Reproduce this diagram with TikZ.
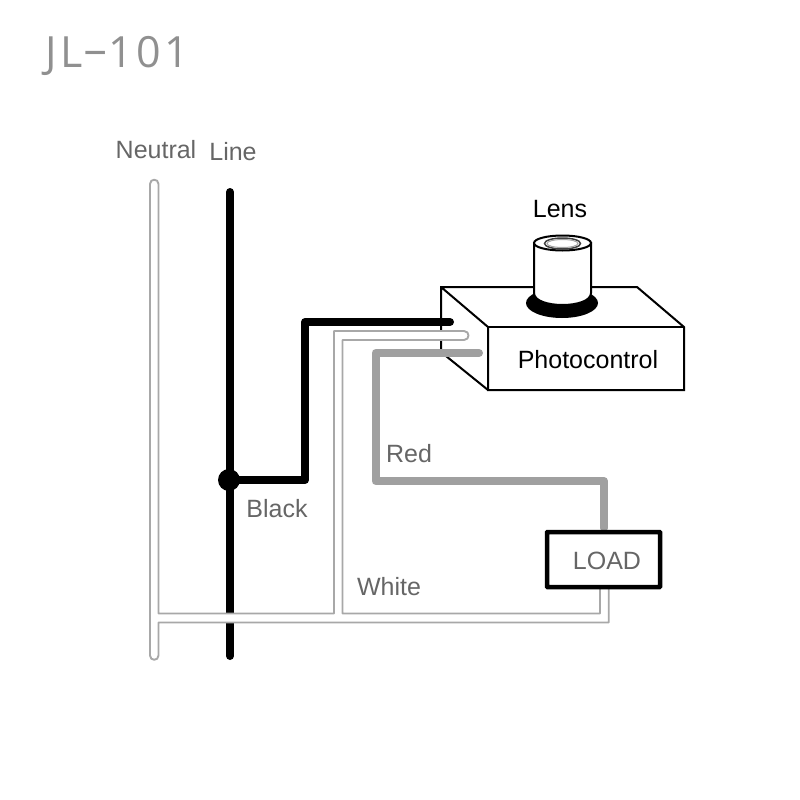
\documentclass[tikz,border=0pt]{standalone}
\usepackage{fontspec}
\usepackage{graphicx}
\setmainfont{Liberation Sans}
\newfontfamily\titlefont[LetterSpace=8]{Open Sans}
\definecolor{lbl}{HTML}{666666}
\definecolor{wirew}{HTML}{A8A8A8}
\definecolor{wirer}{HTML}{A0A0A0}
\definecolor{ttl}{HTML}{909090}
\tikzset{
  x=1pt,y=-1pt,
  lab/.style={font=\fontsize{25}{25}\selectfont,anchor=base,inner sep=0pt,text=lbl},
  labk/.style={lab,text=black},
  outl/.style={draw=black,line width=2pt,line join=miter},
  whitewire/.style={draw=wirew,line width=1.9pt,fill=white,line join=round},
  blackwire/.style={draw=black,line width=8pt,line cap=round,line join=round},
  redwire/.style={draw=wirer,line width=8pt,line cap=round,line join=round},
  loadbox/.style={draw=black,line width=4.5pt,fill=white,minimum width=113pt,minimum height=55pt,inner sep=0pt,rounded corners=0.5pt},
}
\begin{document}
\begin{tikzpicture}
\useasboundingbox (0,0) rectangle (800,800);
% box
\draw[outl] (441,352) -- (441,287) -- (637,287) -- (684,327) -- (684,390) -- (488,390) -- (488,327) -- (441,287);
\draw[outl] (488,327) -- (684,327);
\draw[outl] (441,352) -- (488,390);
% lens
\fill[black] (562,303) ellipse [x radius=36,y radius=15];
\draw[black,line width=2pt,fill=white] (534,243) -- (534,293) .. controls (534,309) and (591,309) .. (591,293) -- (591,243) -- cycle;
\draw[black,line width=2pt,fill=white] (562.5,243) ellipse [x radius=28.5,y radius=7.5];
\draw[black!75,line width=1.5pt] (562.5,243.5) ellipse [x radius=18,y radius=5.5];
\draw[black!35,line width=1pt] (562.5,243.5) ellipse [x radius=15.5,y radius=4];
% line
\coordinate (linetop) at (230,192);
\coordinate (linebot) at (230,656);
\coordinate (tap) at (229,480);
\draw[blackwire] (linetop) -- (linebot);
\node[circle,fill=black,minimum size=22pt,inner sep=0pt] (dot) at (tap) {};
% white wire
\draw[whitewire] (600,532) -- (600,613.5) -- (342.5,613.5) -- (342.5,340) -- (464,340)
  .. controls (470,340) and (470,331) .. (464,331) -- (334,331) -- (334,613.5) -- (158.5,613.5)
  -- (158.5,184) .. controls (158.5,178.3) and (150,178.3) .. (150,184) -- (150,655.5)
  .. controls (150,661.2) and (158.5,661.2) .. (158.5,655.5) -- (158.5,622.5) -- (608.7,622.5) -- (608.7,532);
% black and red wires
\coordinate (blackend) at (450,322);
\coordinate (redend) at (479,353);
\coordinate (redbend) at (604,481);
\draw[blackwire] (dot.center) -- (305,480) -- (305,322) -- (blackend);
\draw[redwire] (redend) -- (375.5,353) -- (375.5,481) -- (redbend) -- (604,528);
% load
\node[loadbox] (load) at (603.5,559.5) {};
% labels
\node[lab] (tneutral) at (156,158) {Neutral};
\node[lab] (tline) at (233,160) {Line};
\node[labk] (tlens) at (560,217) {Lens};
\node[labk] (tphoto) at (588,368) {Photocontrol};
\node[lab] (tred) at (409,462) {Red};
\node[lab] (tblack) at (277,517) {Black};
\node[lab] (twhite) at (389,595) {White};
\node[lab] (tload) at (607,569.5) {LOAD};
\node[anchor=base west,inner sep=0pt,text=ttl,font=\titlefont\fontsize{43}{43}\selectfont] (title) at (45,67.7) {JL\raisebox{3pt}{\scalebox{1.9}[1]{-}}101};
\end{tikzpicture}
\end{document}
